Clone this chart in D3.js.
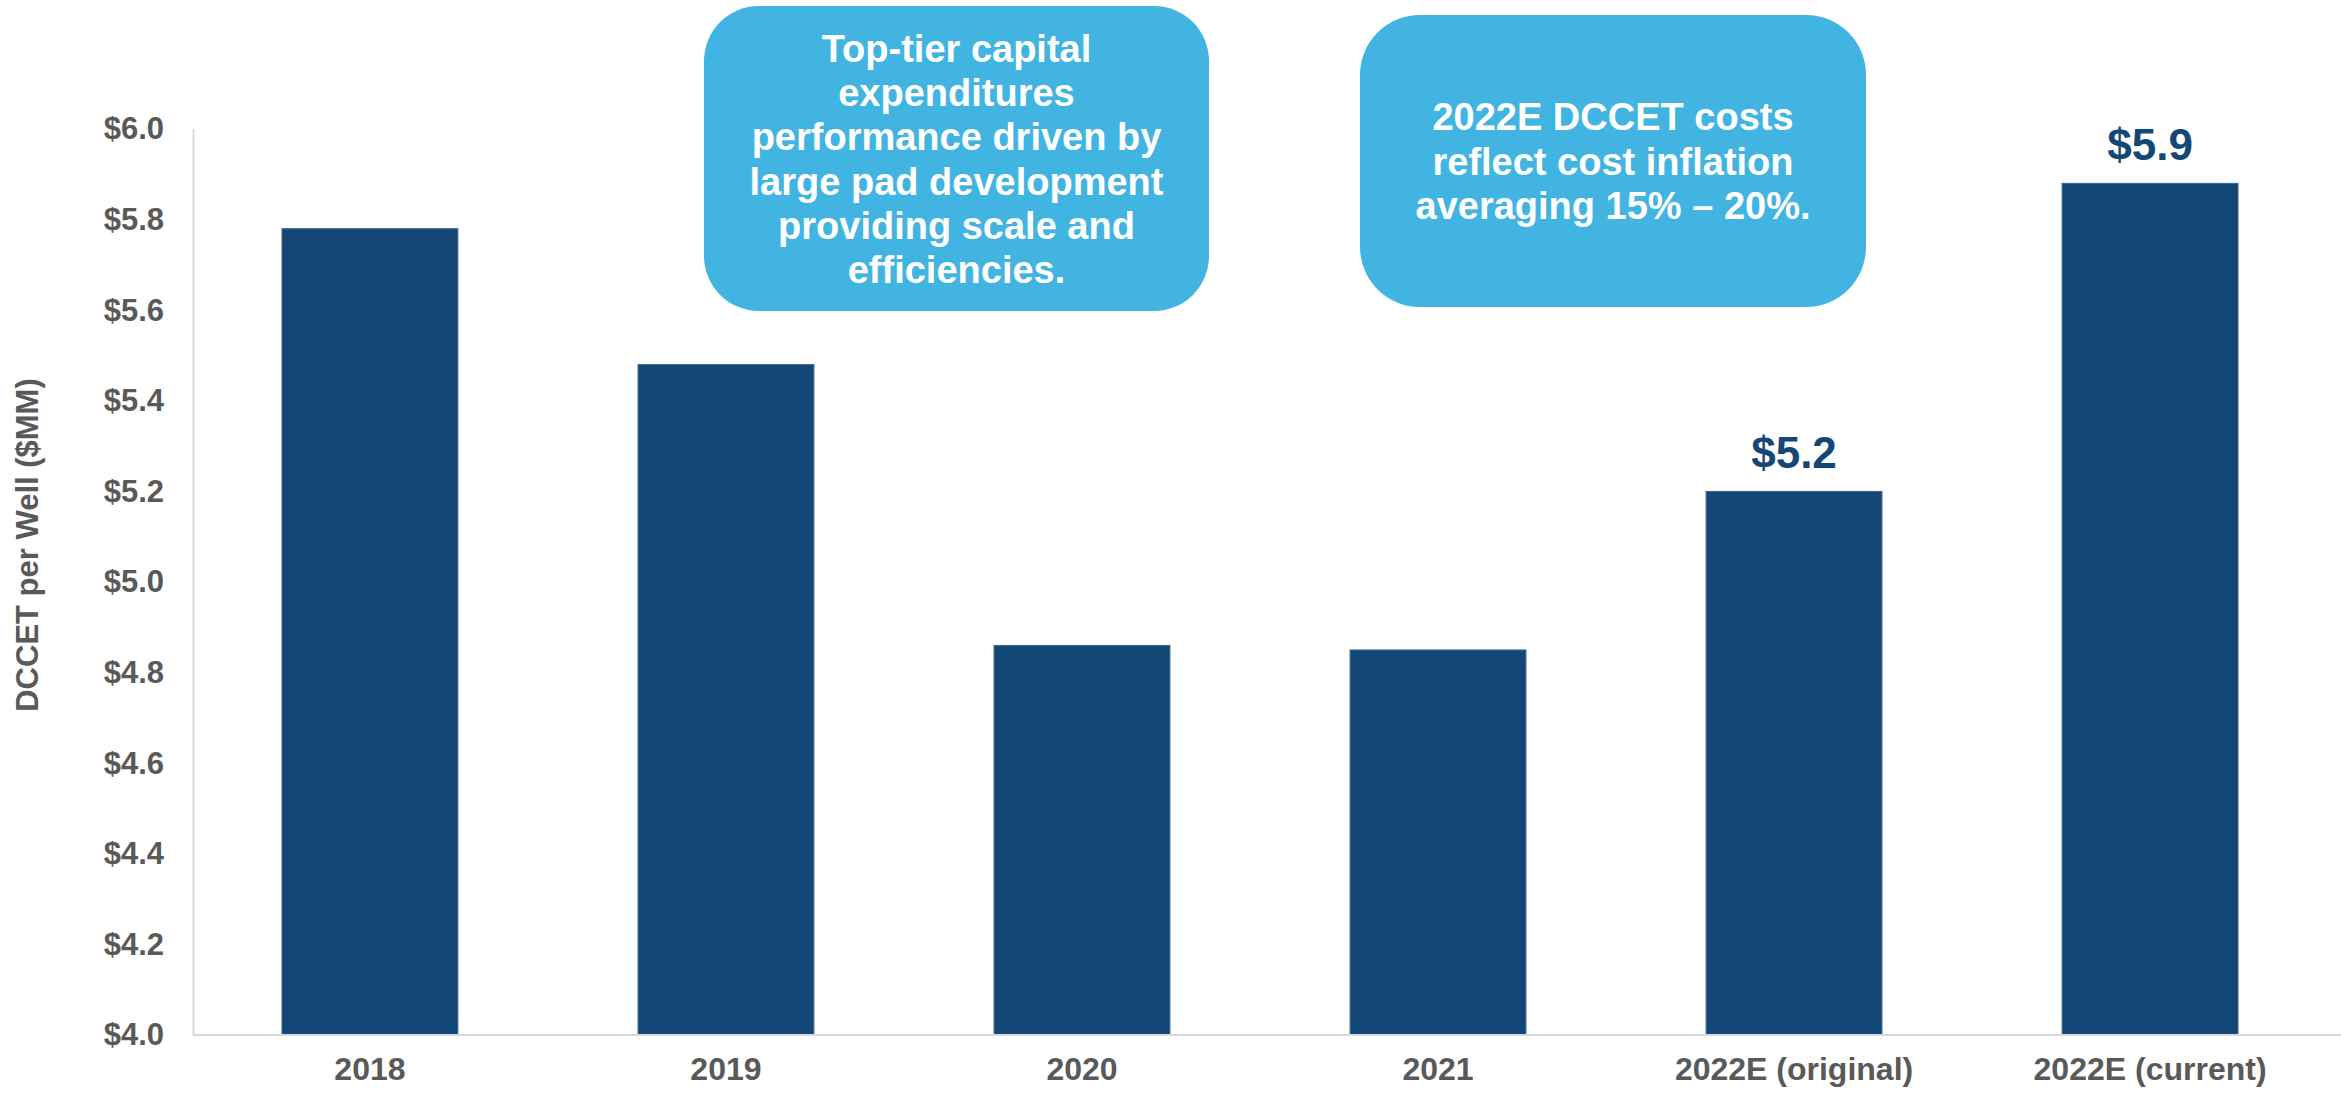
<!DOCTYPE html>
<html>
<head>
<meta charset="utf-8">
<script src="https://cdn.jsdelivr.net/npm/d3@7"></script>
<style>
  html, body { margin: 0; padding: 0; background: #fff; }
  svg { display: block; font-family: "Liberation Sans", Arial, sans-serif; }
</style>
</head>
<body>
<svg id="chart" width="2341" height="1093"></svg>
<script>
const categories = ["2018", "2019", "2020", "2021", "2022E (original)", "2022E (current)"];
const values = [5.78, 5.48, 4.86, 4.85, 5.20, 5.88];
const valueLabels = [null, null, null, null, "$5.2", "$5.9"];
const yTicks = [4.0, 4.2, 4.4, 4.6, 4.8, 5.0, 5.2, 5.4, 5.6, 5.8, 6.0];
const yTitle = "DCCET per Well ($MM)";
const callout1Lines = ["Top-tier capital", "expenditures", "performance driven by", "large pad development", "providing scale and", "efficiencies."];
const callout2Lines = ["2022E DCCET costs", "reflect cost inflation", "averaging 15% – 20%."];

const svg = d3.select("#chart");
const margin = { left: 193, top: 129 };
const W = 2341;
const barColor = "#134876";
const textGray = "#595959";
const calloutColor = "#42B4E2";

const x = d3.scaleBand().domain(categories).range([margin.left, 2327]).paddingInner(0.506).paddingOuter(0.25);
const y = d3.scaleLinear().domain([4.0, 6.0]).range([1035, 129]);

// Bars
svg.append("g").selectAll("rect").data(values).join("rect")
  .attr("x", (d, i) => x(categories[i]))
  .attr("y", d => y(d))
  .attr("width", x.bandwidth())
  .attr("height", d => y(4.0) - y(d))
  .attr("fill", barColor)
  .attr("stroke", "#3e6791")
  .attr("stroke-width", 1);

// Y axis
const yAxis = svg.append("g").attr("transform", `translate(${margin.left},0)`)
  .call(d3.axisLeft(y).tickValues(yTicks).tickFormat(d => "$" + d3.format(".1f")(d)).tickSize(0).tickPadding(29));
yAxis.select(".domain").attr("stroke", "#d9d9d9").attr("stroke-width", 2);
yAxis.selectAll("text").attr("font-size", 31).attr("font-weight", "bold").attr("fill", textGray)
  .attr("font-family", "'Liberation Sans', Arial, sans-serif");

// X axis
const xAxis = svg.append("g").attr("transform", `translate(0,${y(4.0)})`)
  .call(d3.axisBottom(x).tickSize(0).tickPadding(22));
xAxis.select(".domain").attr("stroke", "#d9d9d9").attr("stroke-width", 2)
  .attr("d", `M${margin.left},0H${W}`);
xAxis.selectAll("text").attr("font-size", 32).attr("font-weight", "bold").attr("fill", textGray)
  .attr("font-family", "'Liberation Sans', Arial, sans-serif");

// Y title
svg.append("text")
  .attr("transform", `translate(38,545) rotate(-90)`)
  .attr("text-anchor", "middle")
  .attr("font-size", 31).attr("font-weight", "bold").attr("fill", textGray)
  .text(yTitle);

// Value labels
svg.append("g").selectAll("text").data(categories.filter((c, i) => valueLabels[i] !== null)).join("text")
  .attr("x", c => x(c) + x.bandwidth() / 2)
  .attr("y", c => y(values[categories.indexOf(c)]) - 23)
  .attr("text-anchor", "middle")
  .attr("font-size", 44).attr("font-weight", "bold").attr("fill", barColor)
  .text(c => valueLabels[categories.indexOf(c)]);

// Callouts
function callout(x0, y0, w, h, r, lines, firstBaseline, lh) {
  const g = svg.append("g");
  g.append("rect").attr("x", x0).attr("y", y0).attr("width", w).attr("height", h)
    .attr("rx", r).attr("ry", r).attr("fill", calloutColor);
  g.selectAll("text").data(lines).join("text")
    .attr("x", x0 + w / 2)
    .attr("y", (d, i) => firstBaseline + i * lh)
    .attr("text-anchor", "middle")
    .attr("font-size", 38).attr("font-weight", "bold").attr("fill", "#ffffff")
    .text(d => d);
}
callout(704, 6, 505, 305, 55, callout1Lines, 62, 44.2);
callout(1360, 15, 506, 292, 60, callout2Lines, 130, 44.5);
</script>
</body>
</html>
